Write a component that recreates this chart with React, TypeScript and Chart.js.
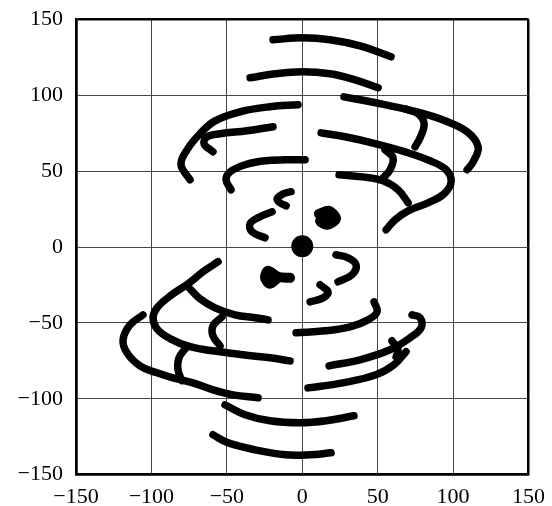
import React, { useEffect, useRef } from "react";
import { Chart, registerables } from "chart.js";

Chart.register(...registerables);

type P = [number, number];

const xTicks = [-150, -100, -50, 0, 50, 100, 150];
const yTicks = [-150, -100, -50, 0, 50, 100, 150];

// upper arcs
const arcA: P[] = [[-19.4, 136.5], [0, 137.8], [18.4, 136.5], [38.3, 132.5], [58.9, 125.3]];
const arcB: P[] = [[-34.6, 111.5], [-18, 114.1], [0, 115.4], [18.4, 114.1], [35, 110.1], [50.3, 104.9]];
const arcC: P[] = [[-74.4, 44.3], [-80.4, 54.2], [-76.4, 64.0], [-67.8, 74.6], [-57.8, 83.1], [-41.2, 89.1], [-21.4, 92.4], [-2.8, 93.7]];
const arcD: P[] = [[-59.2, 62.7], [-65.1, 68.0], [-63.1, 72.6], [-54.5, 74.6], [-36.6, 76.6], [-19.4, 79.2]];
const arcE: P[] = [[-47.2, 37.7], [-50.5, 44.3], [-47.9, 49.5], [-37.9, 54.2], [-24.7, 56.8], [-11.4, 57.4], [1.9, 57.4]];
const hook1: P[] = [[-7.4, 36.4], [-12.7, 35.0], [-16.7, 31.8], [-14.7, 29.1], [-10.7, 27.1]];
const hook2: P[] = [[-20.0, 23.2], [-28.0, 19.9], [-34.6, 15.3], [-33.3, 10.0], [-24.7, 6.1]];
const blob1: P[] = [[11.1, 21.9], [17.8, 23.8], [22.4, 18.6], [16.4, 14.6], [11.8, 17.3], [17.0, 19.5]];
const arcF: P[] = [[27.7, 98.9], [48.9, 95.0], [75.5, 89.1], [94.7, 83.1], [109.3, 75.9], [116.6, 66.1], [113.3, 56.1], [109.3, 50.9]];
const arcG: P[] = [[68.2, 91.0], [76.8, 87.7], [80.8, 81.2], [78.1, 71.9], [74.8, 66.0]];
const arcH: P[] = [[12.5, 75.2], [28.4, 72.6], [48.9, 68.0], [68.2, 62.7], [84.7, 56.8], [95.4, 50.9], [98.7, 43.0], [94.0, 35.0], [83.4, 29.1], [70.2, 23.8], [61.5, 17.9], [55.6, 11.3]];
const arcI: P[] = [[24.4, 47.6], [39.7, 46.2], [53.6, 43.6], [63.5, 37.7], [70.2, 29.1]];
const arcJ: P[] = [[54.9, 64.0], [60.2, 58.8], [58.2, 50.9], [53.6, 45.6]];

// lower arcs
const arcK: P[] = [[-55.8, -9.7], [-65.8, -16.3], [-75.7, -24.2], [-87.4, -32.1], [-96.3, -40.1], [-98.9, -46.6], [-96.3, -53.9], [-87.4, -60.5], [-74.4, -65.7], [-59.2, -68.4], [-39.3, -71.0], [-21.4, -73.0], [-8.1, -75.0]];
const arcL: P[] = [[-75.0, -26.9], [-67.8, -34.1], [-57.8, -40.1], [-44.6, -44.7], [-31.3, -46.6], [-22.7, -48.0]];
const arcM: P[] = [[-53.2, -46.0], [-59.2, -51.9], [-59.2, -58.5], [-54.5, -65.1]];
const arcN: P[] = [[-105.6, -44.7], [-114.2, -51.3], [-118.8, -61.1], [-116.2, -69.7], [-107.6, -78.3], [-96.3, -82.9], [-85.7, -86.2], [-72.4, -89.5], [-59.2, -94.1], [-45.9, -97.4], [-29.3, -99.3]];
const arcO: P[] = [[-77.1, -66.4], [-81.7, -73.0], [-82.4, -80.9], [-79.7, -88.1]];
const arcP: P[] = [[-51.2, -104.0], [-37.9, -110.5], [-21.4, -114.5], [-1.5, -115.8], [15.8, -114.5], [34.3, -111.2]];
const arcQ: P[] = [[-59.2, -123.7], [-49.2, -129.0], [-31.3, -133.6], [-11.4, -136.9], [5.2, -136.9], [19.1, -135.6]];
const arcR: P[] = [[22.4, -5.1], [30.4, -7.1], [35.7, -11.7], [33.0, -18.3], [23.7, -22.9]];
const arcS: P[] = [[11.8, -24.9], [17.1, -29.5], [13.8, -33.5], [5.2, -36.1]];
const blob2: P[] = [[-8.1, -20.3], [-16.0, -19.6], [-22.7, -15.6], [-24.7, -20.3], [-21.4, -24.2], [-16.0, -19.6], [-21.0, -19.8]];
const arcT: P[] = [[-4.1, -56.5], [15.1, -55.2], [31.7, -52.6], [43.6, -48.0], [49.6, -42.7], [47.6, -36.1]];
const arcU: P[] = [[17.8, -78.3], [38.3, -74.3], [58.2, -67.7], [71.5, -59.8], [78.8, -53.2], [78.1, -46.6], [72.8, -44.7]];
const arcV: P[] = [[3.8, -92.8], [27.0, -89.5], [48.9, -84.2], [60.8, -77.6], [68.8, -69.0]];
const arcW: P[] = [[59.5, -61.8], [63.5, -67.7], [62.2, -72.3]];

const centerDot: P[] = [[0, 0.5]];

const arcs: P[][] = [
  arcA, arcB, arcC, arcD, arcE, hook1, hook2, arcF, arcG, arcH, arcI, arcJ,
  arcK, arcL, arcM, arcN, arcO, arcP, arcQ, arcR, arcS, arcT, arcU, arcV, arcW,
];
const blobs: P[][] = [blob1, blob2];

export default function App() {
  const ref = useRef<HTMLCanvasElement | null>(null);
  useEffect(() => {
    document.body.style.margin = "0";
    const canvas = ref.current;
    if (!canvas) return;
    const toPts = (a: P[]) => a.map(([x, y]) => ({ x, y }));
    const datasets: any[] = arcs.map((a) => ({
      data: toPts(a),
      showLine: true,
      borderColor: "#000",
      borderWidth: 7.5,
      borderCapStyle: "round",
      borderJoinStyle: "round",
      tension: 0.4,
      pointRadius: 0,
      fill: false,
    }));
    blobs.forEach((a) =>
      datasets.push({
        data: toPts(a),
        showLine: true,
        borderColor: "#000",
        backgroundColor: "#000",
        borderWidth: 10,
        borderCapStyle: "round",
        borderJoinStyle: "round",
        tension: 0.3,
        pointRadius: 0,
        fill: false,
      })
    );
    datasets.push({
      data: toPts(centerDot),
      showLine: false,
      pointRadius: 11,
      pointBackgroundColor: "#000",
      pointBorderColor: "#000",
      pointBorderWidth: 0,
    });
    const font = { family: "'Liberation Serif', 'Times New Roman', serif", size: 22 };
    const edgeWidth = (c: any) => (c.tick && (c.tick.value === 150 || c.tick.value === -150) ? 2.5 : 1);
    const edgeColor = (c: any) => (c.tick && (c.tick.value === 150 || c.tick.value === -150) ? "#000" : "#444");
    const chart = new Chart(canvas, {
      type: "scatter",
      data: { datasets },
      options: {
        animation: false,
        responsive: false,
        events: [],
        layout: { padding: { top: 19.3, right: 23.5, left: 0, bottom: 0 } },
        plugins: { legend: { display: false }, tooltip: { enabled: false } },
        scales: {
          x: {
            type: "linear",
            min: -150,
            max: 150,
            afterBuildTicks: (s: any) => { s.ticks = xTicks.map((v) => ({ value: v })); },
            afterFit: (s: any) => { s.height = 31.3; s.paddingLeft = 0; s.paddingRight = 0; },
            ticks: { font, color: "#000", padding: 9, maxRotation: 0, callback: (v: any) => String(v).replace("-", "\u2212") },
            grid: { color: edgeColor, lineWidth: edgeWidth, drawTicks: false },
            border: { color: "#000", width: 2.5 },
          },
          y: {
            type: "linear",
            min: -150,
            max: 150,
            afterBuildTicks: (s: any) => { s.ticks = yTicks.map((v) => ({ value: v })); },
            afterFit: (s: any) => { s.width = 76; s.paddingTop = 0; s.paddingBottom = 0; },
            ticks: { font, color: "#000", padding: 13, callback: (v: any) => String(v).replace("-", "\u2212") },
            grid: { color: edgeColor, lineWidth: edgeWidth, drawTicks: false },
            border: { color: "#000", width: 2.5 },
          },
        },
      },
    });
    return () => chart.destroy();
  }, []);
  return (
    <div style={{ width: 552, height: 506, background: "#fff" }}>
      <canvas ref={ref} width={552} height={506} style={{ display: "block" }} />
    </div>
  );
}
